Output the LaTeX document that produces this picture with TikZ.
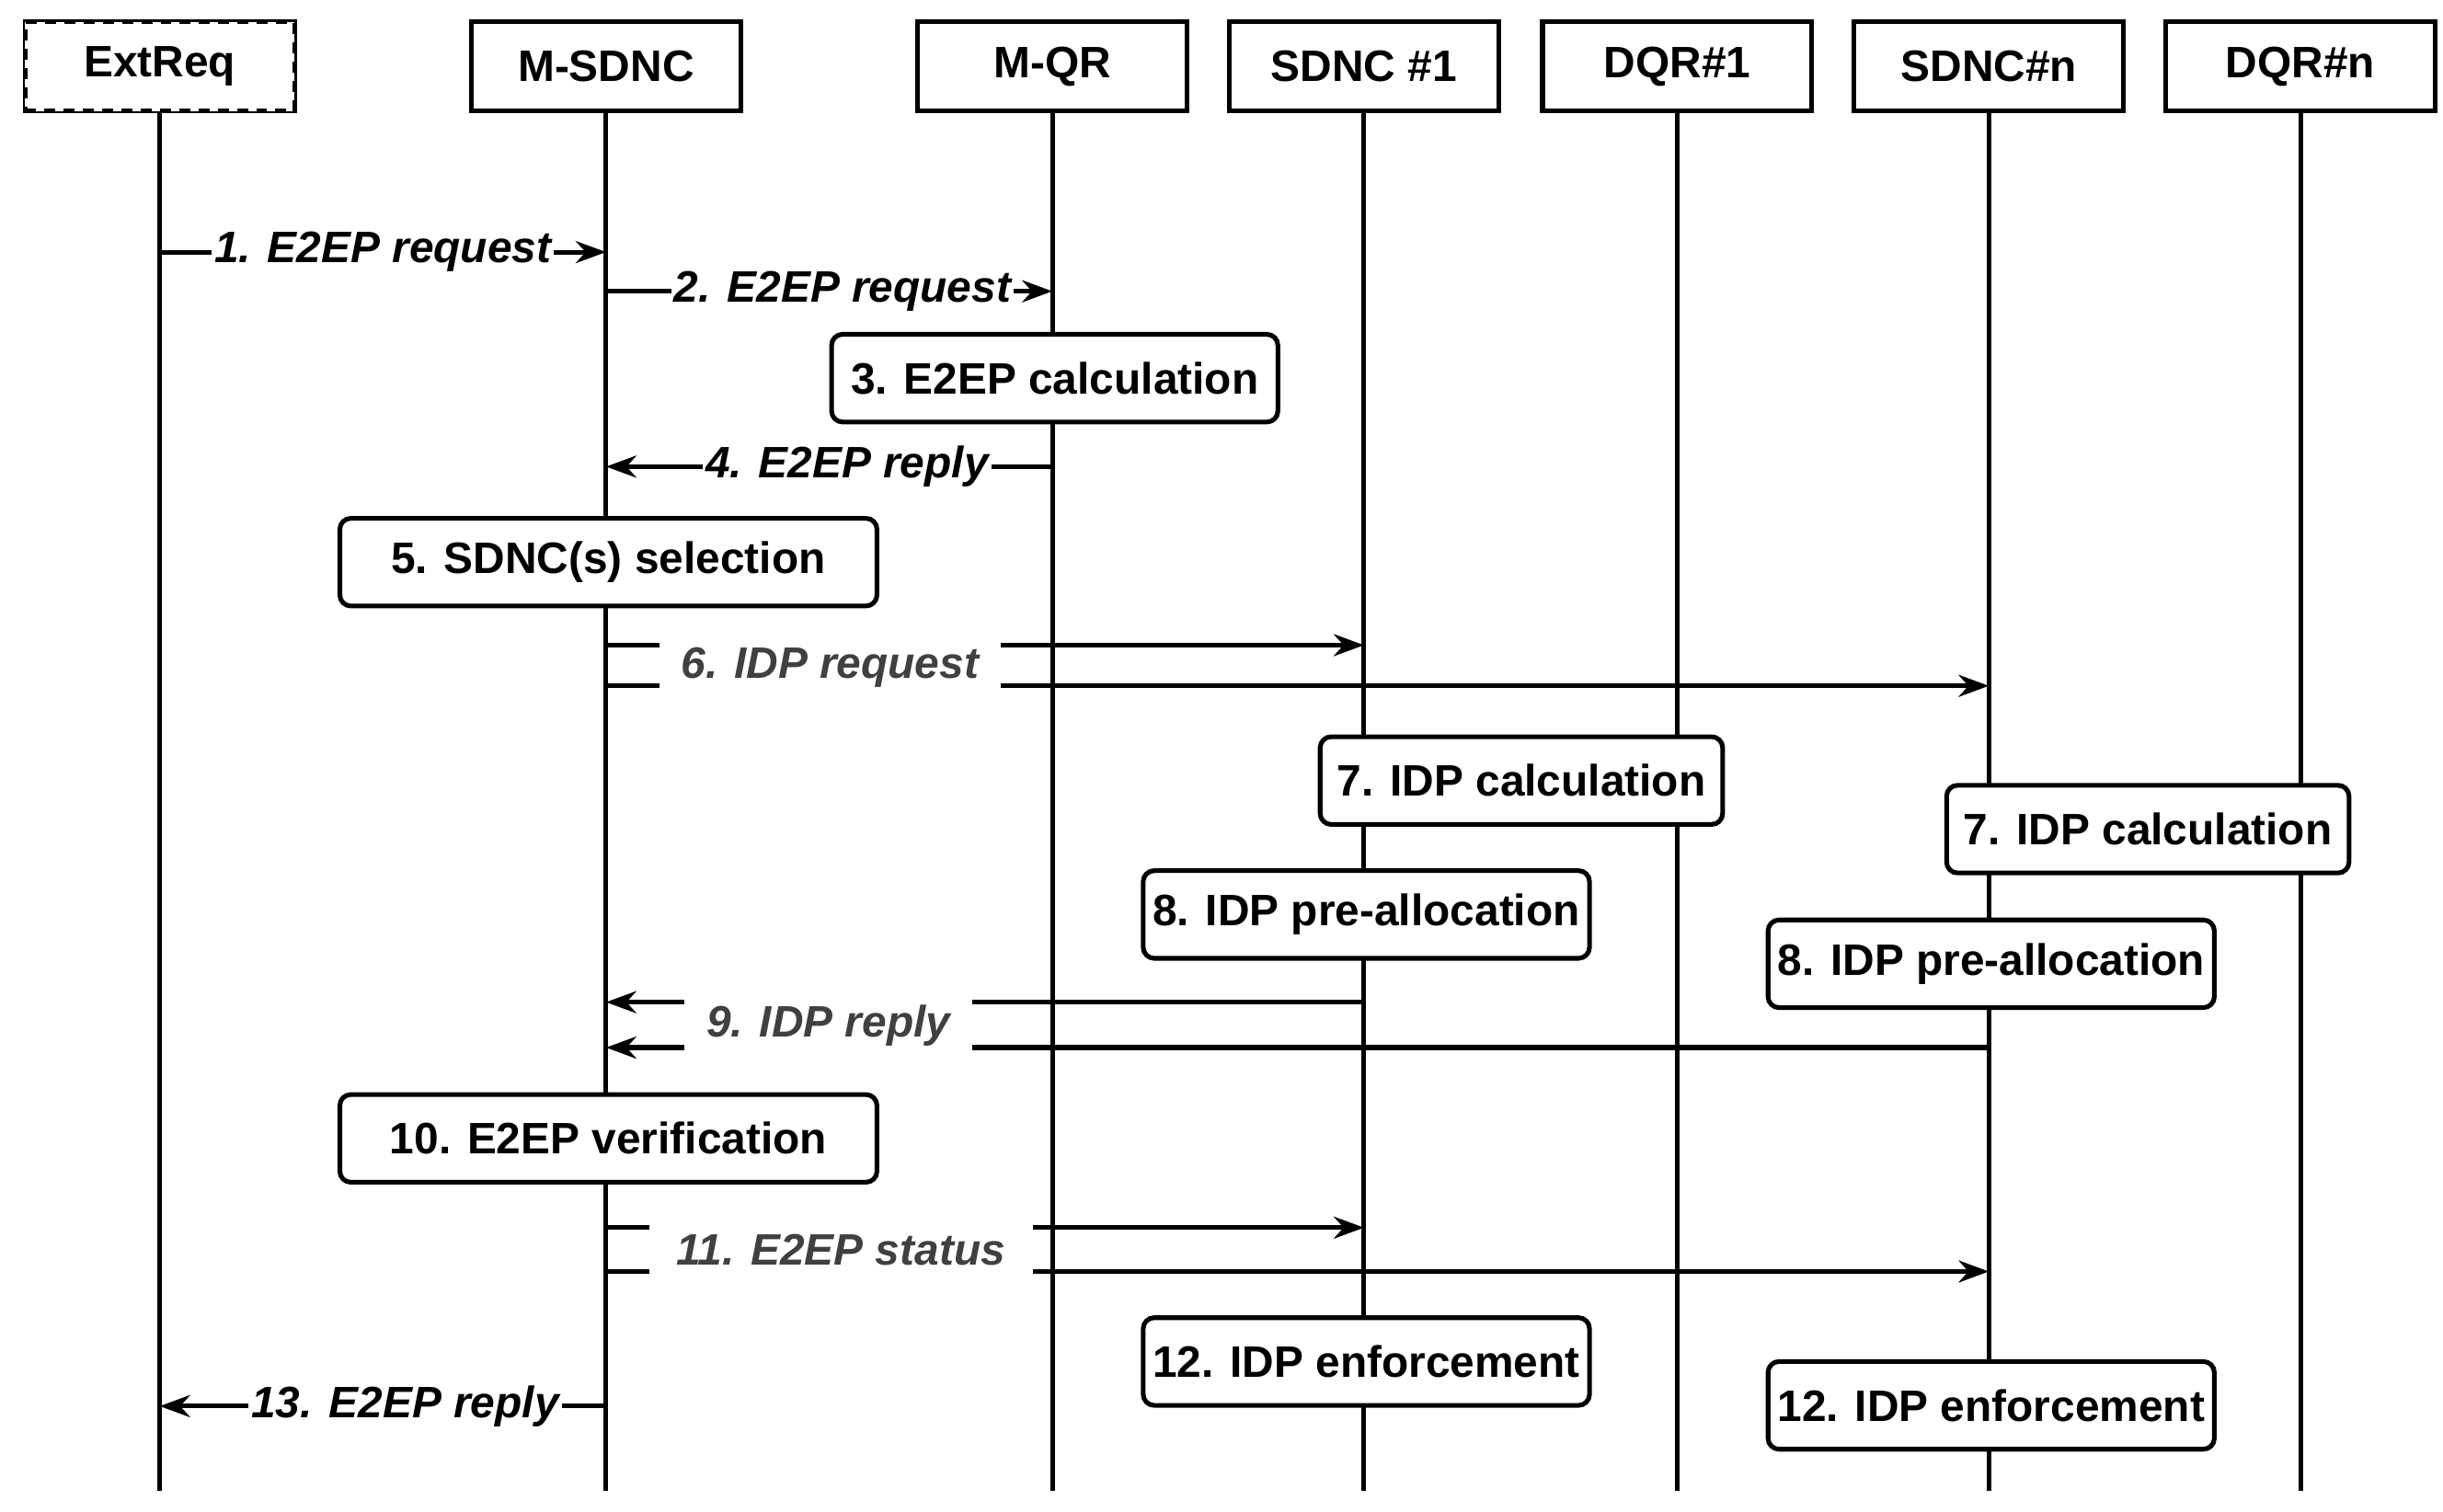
\documentclass[tikz,border=0pt]{standalone}
\usepackage{fontspec}
\setmainfont{Liberation Sans}
\usetikzlibrary{arrows.meta}
\begin{document}
\begin{tikzpicture}[x=0.02cm,y=-0.02cm,line width=1.7pt,
  hdr/.style={draw,minimum width=172*0.02cm,minimum height=57*0.02cm,font=\fontsize{16}{18}\selectfont\bfseries,fill=white},
  box/.style={draw,rounded corners=4pt,minimum height=56*0.02cm,font=\fontsize{16}{18}\selectfont\bfseries,fill=white,inner xsep=2pt},
  msg/.style={-{Stealth[length=11pt,width=8pt]}},
  lbl/.style={fill=white,font=\fontsize{16}{18}\selectfont\bfseries\itshape,inner sep=1pt},
  glbl/.style={lbl,text=black!75,inner xsep=8pt}]
\useasboundingbox (0,0) rectangle (1560,965.5);
\foreach \n/\x/\t in {er/102/ExtReq,ms/387/M-SDNC,mq/672/M-QR,s1/871/SDNC \#1,d1/1071/DQR\#1,sn/1270/SDNC\#n,dn/1469/DQR\#n}{
  \node[hdr] (\n) at (\x,42.5) {\t};
  \coordinate (\n e) at (\x,952);
  \draw (\n.south) -- (\n e);
}
\node[hdr,dash pattern=on 4pt off 3pt] at (er) {ExtReq};
% messages
\coordinate (a1) at (102,161); \coordinate (b1) at (387,161);
\draw[msg] (a1) -- node[lbl]{1. E2EP request} (b1);
\coordinate (a2) at (387,186); \coordinate (b2) at (672,186);
\draw[msg] (a2) -- node[lbl,pos=0.53]{2. E2EP request} (b2);
\node[box,minimum width=285*0.02cm] (c3) at (673.5,241.5) {3. E2EP calculation};
\coordinate (a4) at (672,298); \coordinate (b4) at (387,298);
\draw[msg] (a4) -- node[lbl,pos=0.46]{4. E2EP reply} (b4);
\node[box,minimum width=343*0.02cm] (c5) at (388.5,359) {5. SDNC(s) selection};
\coordinate (a6) at (387,412); \coordinate (b6) at (871,412);
\coordinate (a6n) at (387,438); \coordinate (b6n) at (1270,438);
\draw[msg] (a6) -- (b6);
\draw[msg] (a6n) -- (b6n);
\node[glbl,minimum height=40*0.02cm] (l6) at (530,426) {6. IDP request};
\node[box,minimum width=257*0.02cm] (c7) at (971.5,498.5) {7. IDP calculation};
\node[box,minimum width=257*0.02cm] (c7n) at (1371.5,529.5) {7. IDP calculation};
\node[box,minimum width=285*0.02cm] (c8) at (872.5,584) {8. IDP pre-allocation};
\node[box,minimum width=285*0.02cm] (c8n) at (1271.5,615.5) {8. IDP pre-allocation};
\coordinate (a9) at (871,640); \coordinate (b9) at (387,640);
\coordinate (a9n) at (1270,669); \coordinate (b9n) at (387,669);
\draw[msg] (a9) -- (b9);
\draw[msg] (a9n) -- (b9n);
\node[glbl,minimum height=44*0.02cm] (l9) at (529,655) {9. IDP reply};
\node[box,minimum width=343*0.02cm] (c10) at (388.5,727) {10. E2EP verification};
\coordinate (a11) at (387,784); \coordinate (b11) at (871,784);
\coordinate (a11n) at (387,812); \coordinate (b11n) at (1270,812);
\draw[msg] (a11) -- (b11);
\draw[msg] (a11n) -- (b11n);
\node[glbl,minimum height=42*0.02cm,inner xsep=10pt] (l11) at (537,798) {11. E2EP status};
\node[box,minimum width=285*0.02cm] (c12) at (872.5,869.5) {12. IDP enforcement};
\node[box,minimum width=285*0.02cm] (c12n) at (1271.5,897.5) {12. IDP enforcement};
\coordinate (a13) at (387,898); \coordinate (b13) at (102,898);
\draw[msg] (a13) -- node[lbl,pos=0.45]{13. E2EP reply} (b13);
\end{tikzpicture}
\end{document}
